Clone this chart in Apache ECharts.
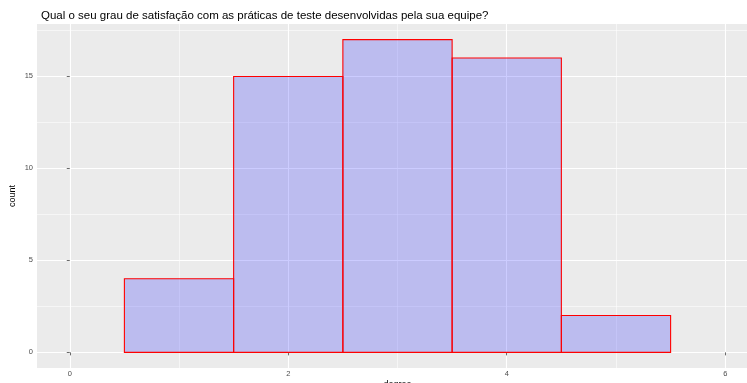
<!DOCTYPE html>
<html>
<head>
<meta charset="utf-8">
<script src="https://cdn.jsdelivr.net/npm/echarts@6/dist/echarts.min.js"></script>
<style>html,body{margin:0;padding:0;background:#fff;}#c{width:747px;height:383px;}</style>
</head>
<body>
<div id="c"></div>
<script>
// ---- data ----
const binStart = [0.5, 1.5, 2.5, 3.5, 4.5];
const binEnd   = [1.5, 2.5, 3.5, 4.5, 5.5];
const counts   = [4, 15, 17, 16, 2];
const xTicks = [0, 2, 4, 6];
const yTicks = [0, 5, 10, 15];
const titleText = 'Qual o seu grau de satisfação com as práticas de teste desenvolvidas pela sua equipe?';
const xTitle = 'degree';
const yTitle = 'count';

// ---- layout (panel in px) ----
const L = 37, W = 721, T = 24, H = 344;
const xMin = -0.3, xMax = 6.3;
const yMax0 = Math.max.apply(null, counts);
const yMin = -0.05 * yMax0, yMax = yMax0 * 1.05;
const pxX = W / (xMax - xMin), pxY = H / (yMax - yMin);

const FONT = '"Liberation Sans", Arial, sans-serif';
const tickLbl = {fontSize: 7.5, color: '#4D4D4D', fontFamily: FONT};
const gridBase = {outerBoundsMode: 'none', containLabel: false, borderWidth: 0};

const chart = echarts.init(document.getElementById('c'), null, {renderer: 'canvas'});
const data = binStart.map((s, i) => [s, binEnd[i], counts[i]]);

chart.setOption({
  animation: false,
  backgroundColor: '#ffffff',
  title: {
    text: titleText, left: 36, top: 5,
    textStyle: {fontSize: 11.5, fontWeight: 'normal', color: '#000', fontFamily: FONT}
  },
  grid: [
    Object.assign({left: L, top: T, width: W, height: H, show: true, backgroundColor: '#EBEBEB'}, gridBase),
    Object.assign({left: L + (0 - xMin) * pxX, top: T, width: (xTicks[xTicks.length - 1] - 0) * pxX, height: H, show: false}, gridBase),
    Object.assign({left: L, top: T, width: W, height: (yMax - 0) * pxY, show: false}, gridBase)
  ],
  xAxis: [
    {gridIndex: 0, type: 'value', min: xMin, max: xMax, name: xTitle, nameLocation: 'middle', nameGap: 12,
     nameTextStyle: {fontSize: 9, color: '#000', fontFamily: FONT},
     axisLine: {show: false}, axisTick: {show: false}, axisLabel: {show: false}, splitLine: {show: false}},
    {gridIndex: 1, type: 'value', min: 0, max: xTicks[xTicks.length - 1], interval: 2,
     axisLine: {show: false}, axisTick: {show: true, length: 3, lineStyle: {color: '#444', width: 0.8}},
     axisLabel: Object.assign({margin: 2}, tickLbl),
     splitLine: {show: true, lineStyle: {color: '#FFFFFF', width: 1.1}},
     minorTick: {show: false, splitNumber: 2},
     minorSplitLine: {show: true, lineStyle: {color: '#FFFFFF', width: 0.55}}},
    {gridIndex: 2, type: 'value', min: xMin, max: xMax, show: false}
  ],
  yAxis: [
    {gridIndex: 0, type: 'value', min: yMin, max: yMax, name: yTitle, nameLocation: 'middle', nameGap: 20,
     nameTextStyle: {fontSize: 9, color: '#000', fontFamily: FONT},
     axisLine: {show: false}, axisTick: {show: false}, axisLabel: {show: false}, splitLine: {show: false}},
    {gridIndex: 1, type: 'value', min: yMin, max: yMax, show: false},
    {gridIndex: 2, type: 'value', min: 0, max: yMax, interval: 5,
     axisLine: {show: false}, axisTick: {show: true, length: 3, lineStyle: {color: '#444', width: 0.8}},
     axisLabel: Object.assign({margin: 4, showMaxLabel: false}, tickLbl),
     splitLine: {show: true, showMaxLine: false, lineStyle: {color: '#FFFFFF', width: 1.1}},
     minorTick: {show: false, splitNumber: 2},
     minorSplitLine: {show: true, lineStyle: {color: '#FFFFFF', width: 0.55}}}
  ],
  series: [{
    type: 'custom',
    xAxisIndex: 0, yAxisIndex: 0,
    data: data,
    encode: {x: [0, 1], y: 2},
    renderItem: function (params, api) {
      const p0 = api.coord([api.value(0), 0]);
      const p1 = api.coord([api.value(1), api.value(2)]);
      return {
        type: 'rect',
        shape: {x: p0[0], y: p1[1], width: p1[0] - p0[0], height: p0[1] - p1[1]},
        style: {fill: 'rgba(0,0,255,0.2)', stroke: '#FF0000', lineWidth: 1.1}
      };
    }
  }]
});
</script>
</body>
</html>
